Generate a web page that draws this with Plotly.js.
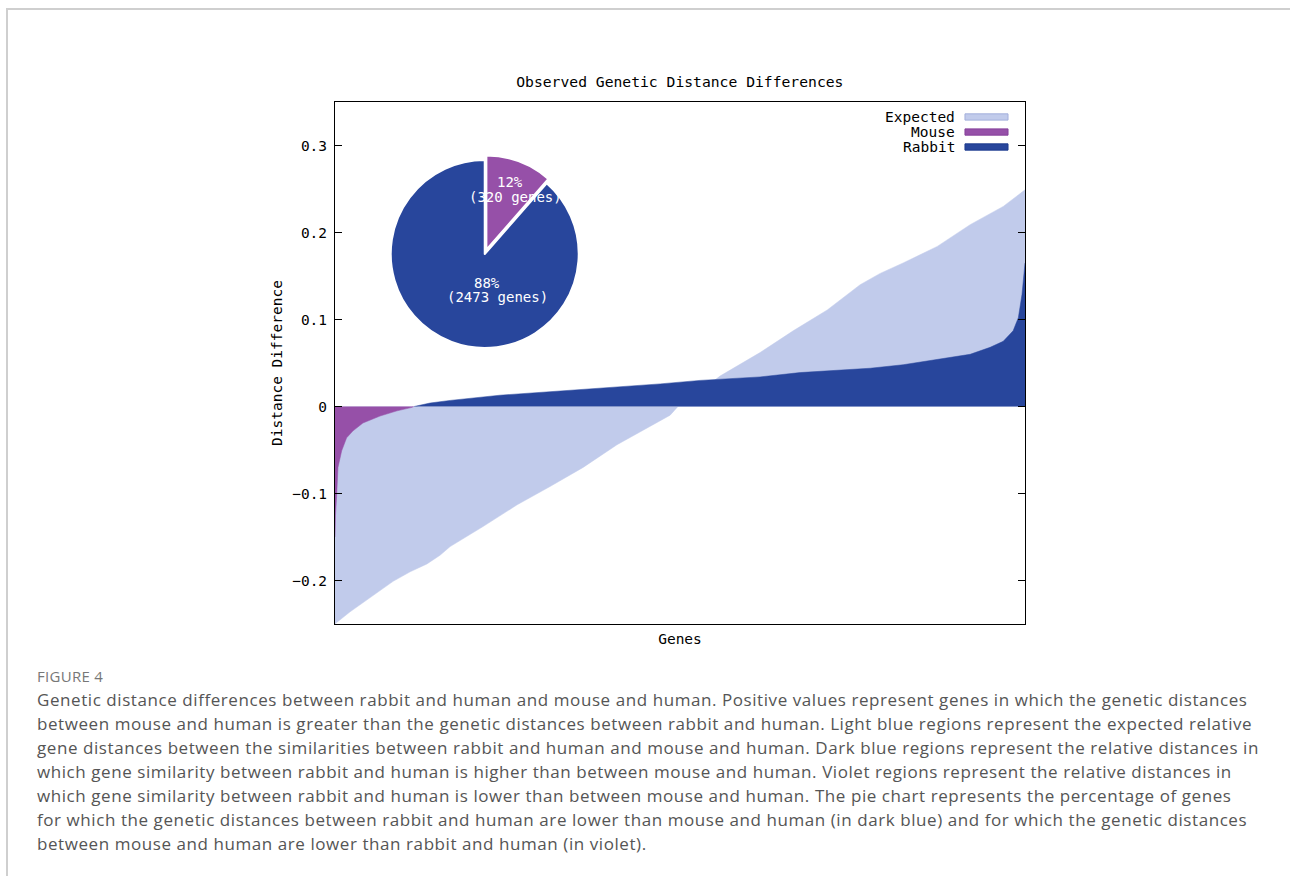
<!DOCTYPE html>
<html>
<head>
<meta charset="utf-8">
<script src="https://cdn.plot.ly/plotly-3.0.1.min.js"></script>
<style>
  html, body { margin:0; padding:0; background:#fff; width:1290px; height:876px; overflow:hidden; }
  #frame { position:absolute; left:6px; top:8px; width:1400px; height:1000px; border-top:2px solid #cfcfcf; border-left:2px solid #cfcfcf; }
  #chart { position:absolute; left:0; top:0; width:1290px; height:660px; }
  #cap { position:absolute; left:37px; top:665px; font-family:"Open Sans", sans-serif; color:#555; }
  #cap .fig { font-size:15px; color:#777; line-height:22px; margin-bottom:1px; letter-spacing:0.3px; }
  #cap .ln { font-size:17px; line-height:24px; white-space:nowrap; letter-spacing:0.57px; }
</style>
</head>
<body>
<div id="frame"></div>
<div id="chart"></div>
<div id="cap">
  <div class="fig">FIGURE 4</div>
  <div class="ln">Genetic distance differences between rabbit and human and mouse and human. Positive values represent genes in which the genetic distances</div>
  <div class="ln">between mouse and human is greater than the genetic distances between rabbit and human. Light blue regions represent the expected relative</div>
  <div class="ln">gene distances between the similarities between rabbit and human and mouse and human. Dark blue regions represent the relative distances in</div>
  <div class="ln">which gene similarity between rabbit and human is higher than between mouse and human. Violet regions represent the relative distances in</div>
  <div class="ln">which gene similarity between rabbit and human is lower than between mouse and human. The pie chart represents the percentage of genes</div>
  <div class="ln">for which the genetic distances between rabbit and human are lower than mouse and human (in dark blue) and for which the genetic distances</div>
  <div class="ln">between mouse and human are lower than rabbit and human (in violet).</div>
</div>
<script>
// ---- data ----
const seriesNames = ["Expected", "Mouse", "Rabbit"];
const pieLabels = ["Mouse", "Rabbit"];
const pieCounts = [320, 2473];
const piePercents = ["12%", "88%"];

// gene rank index vs distance difference
const expectedIdx = [0, 8, 61, 101, 182, 235, 304, 372, 425, 466, 599, 737, 870, 1004, 1141, 1275, 1356, 1397, 1477, 1558, 1720, 1854, 1992, 2125, 2206, 2299, 2437, 2570, 2704, 2792];
const expectedVal = [-0.250, -0.248, -0.236, -0.228, -0.212, -0.201, -0.190, -0.181, -0.171, -0.161, -0.138, -0.113, -0.092, -0.070, -0.044, -0.023, -0.010, 0.003, 0.017, 0.035, 0.062, 0.087, 0.111, 0.140, 0.153, 0.165, 0.184, 0.209, 0.230, 0.249];

const mouseIdx = [0, 2, 7, 12, 27, 47, 73, 113, 182, 251, 312, 319];
const mouseVal = [-0.150, -0.125, -0.101, -0.070, -0.051, -0.036, -0.028, -0.019, -0.011, -0.005, -0.001, 0.000];

const rabbitIdx = [320, 385, 466, 668, 870, 1073, 1316, 1477, 1720, 1882, 2166, 2299, 2437, 2570, 2651, 2704, 2744, 2765, 2780, 2789, 2792];
const rabbitVal = [0.000, 0.004, 0.007, 0.013, 0.017, 0.021, 0.026, 0.030, 0.034, 0.039, 0.044, 0.048, 0.054, 0.060, 0.068, 0.075, 0.087, 0.102, 0.129, 0.163, 0.165];

const yTicks = [-0.2, -0.1, 0, 0.1, 0.2, 0.3];

// ---- styles ----
const colors = ["#c1cbeb", "#9650a8", "#28469c"];
const borders = ["#a3afdc", "#86409a", "#1c3a8e"];
const mono = "DejaVu Sans Mono, monospace";
const totalGenes = pieCounts[0] + pieCounts[1];
const xs = [expectedIdx, mouseIdx, rabbitIdx];
const ys = [expectedVal, mouseVal, rabbitVal];

const traces = seriesNames.map((n, i) => ({
  type:"scatter", mode:"lines", name:n, x:xs[i], y:ys[i], showlegend:false,
  fill:"tozeroy", fillcolor:colors[i], line:{color:colors[i], width:0.5}, hoverinfo:"skip"
}));
traces.push({
  type:"pie", labels:pieLabels, values:pieCounts, sort:false, direction:"clockwise", rotation:0,
  marker:{colors:[colors[1], colors[2]], line:{color:"#ffffff", width:2}},
  pull:[0.05, 0], textinfo:"none", hoverinfo:"skip", showlegend:false,
  domain:{x:[0.0729, 0.3611], y:[0.5198, 0.8979]}
});

const annFont = {family:mono, size:14, color:"#ffffff"};
const annotations = [
  {xref:"paper", yref:"paper", x:0.2536, y:0.8467, xanchor:"center", yanchor:"middle", text:piePercents[0], showarrow:false, font:annFont},
  {xref:"paper", yref:"paper", x:0.2623, y:0.8180, xanchor:"center", yanchor:"middle", text:"(" + pieCounts[0] + " genes)", showarrow:false, font:annFont},
  {xref:"paper", yref:"paper", x:0.2203, y:0.6533, xanchor:"center", yanchor:"middle", text:piePercents[1], showarrow:false, font:annFont},
  {xref:"paper", yref:"paper", x:0.2348, y:0.6264, xanchor:"center", yanchor:"middle", text:"(" + pieCounts[1] + " genes)", showarrow:false, font:annFont}
];

// legend in gnuplot style: right-aligned key text, swatch on the right
const legY = [0.9713, 0.9425, 0.9138];
const shapes = [];
seriesNames.forEach((n, i) => {
  annotations.push({xref:"paper", yref:"paper", x:0.9014, y:legY[i], xanchor:"right", yanchor:"middle",
    text:n, showarrow:false, font:{family:mono, size:14.5, color:"#000"}});
  shapes.push({type:"rect", xref:"paper", yref:"paper", x0:0.9130, x1:0.9754,
    y0:legY[i]-0.0060, y1:legY[i]+0.0060, fillcolor:colors[i], line:{color:borders[i], width:1}});
});

const layout = {
  width:1290, height:660,
  margin:{l:335, r:265, t:102, b:36},
  paper_bgcolor:"rgba(0,0,0,0)", plot_bgcolor:"#ffffff",
  font:{family:mono, size:14.5, color:"#000"},
  title:{text:"Observed Genetic Distance Differences", font:{family:mono, size:14.7, color:"#000"},
         x:0.527, xanchor:"center", y:1-82/660, yanchor:"middle", xref:"container", yref:"container"},
  showlegend:false,
  xaxis:{range:[0, totalGenes-1], showticklabels:false, ticks:"", showgrid:false, zeroline:false,
         showline:true, linecolor:"#000", linewidth:1, mirror:true,
         title:{text:"Genes", font:{family:mono, size:14.5, color:"#000"}, standoff:9}},
  yaxis:{range:[-0.25, 0.35], tickvals:yTicks, ticks:"inside", ticklen:7, tickcolor:"#000",
         showgrid:false, zeroline:false, showline:true, linecolor:"#000", linewidth:1, mirror:"ticks",
         ticklabelstandoff:4,
         tickfont:{family:mono, size:14.5, color:"#000"},
         title:{text:"Distance Difference", font:{family:mono, size:14.5, color:"#000"}, standoff:6}},
  annotations:annotations,
  shapes:shapes
};

Plotly.newPlot("chart", traces, layout, {staticPlot:true, displayModeBar:false});
</script>
</body>
</html>
